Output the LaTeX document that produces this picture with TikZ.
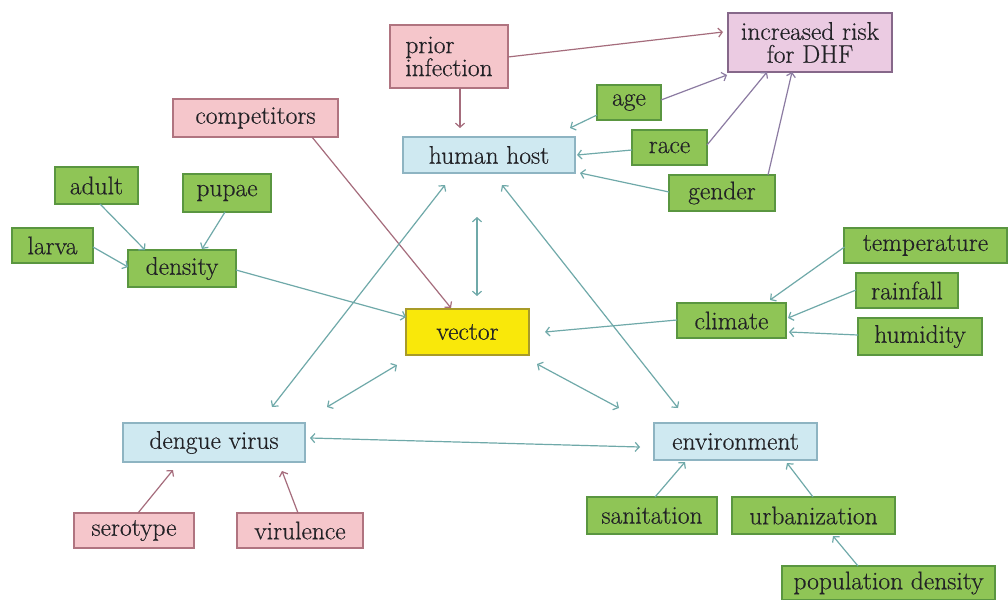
\documentclass[tikz,border=0pt]{standalone}
\usepackage{fontspec}
\setmainfont{Latin Modern Roman}[FakeBold=0.45]
\usetikzlibrary{arrows.meta,calc}
\definecolor{gfill}{HTML}{8FC556}
\definecolor{gline}{HTML}{5A9640}
\definecolor{pfill}{HTML}{F5C6CB}
\definecolor{pline}{HTML}{B07480}
\definecolor{bfill}{HTML}{CFE9F1}
\definecolor{bline}{HTML}{8EB4C2}
\definecolor{yfill}{HTML}{F9E80A}
\definecolor{yline}{HTML}{A89B28}
\definecolor{vfill}{HTML}{EBCBE2}
\definecolor{vline}{HTML}{86688A}
\definecolor{txt}{HTML}{222226}
\definecolor{teal}{HTML}{6FA9A9}
\definecolor{mauve}{HTML}{A56C7C}
\definecolor{purp}{HTML}{8C7BA2}
\begin{document}
\begin{tikzpicture}[x=1pt,y=-1pt,
  box/.style={draw, line width=1.3pt, inner sep=0pt, text=txt, align=center,
    font=\fontsize{25.5}{23}\selectfont},
  gbox/.style={box, fill=gfill, draw=gline},
  pbox/.style={box, fill=pfill, draw=pline},
  bbox/.style={box, fill=bfill, draw=bline},
  ybox/.style={box, fill=yfill, draw=yline},
  vbox/.style={box, fill=vfill, draw=vline},
  wh/.style n args={2}{minimum width=#1pt, minimum height=#2pt},
  con/.style={line width=1.2pt, -{Straight Barb[length=4pt,width=9pt,line width=1.2pt]}},
  dcon/.style={line width=1.2pt, {Straight Barb[length=4pt,width=9pt,line width=1.2pt]}-{Straight Barb[length=4pt,width=9pt,line width=1.2pt]}},
  tcon/.style={con, draw=teal},
  tdcon/.style={dcon, draw=teal},
  mcon/.style={con, draw=mauve},
  vcon/.style={con, draw=purp}]
\useasboundingbox[fill=white] (0,0) rectangle (1008,599);

% nodes
\node[pbox, wh={118}{63}, align=left] (prior) at (449,56.5) {prior\\infection};
\node[vbox, wh={164}{59}] (risk) at (810,42.5) {increased risk\\for DHF};
\node[pbox, wh={165}{38}] (comp) at (255.5,118) {competitors};
\node[bbox, wh={172}{36}] (human) at (489,155) {human host};
\node[gbox, wh={64}{35}] (age) at (629,102.5) {age};
\node[gbox, wh={75}{35}] (race) at (669.5,147.5) {race};
\node[gbox, wh={106}{36}] (gender) at (722,193) {gender};
\node[gbox, wh={83}{37}] (adult) at (96.5,185.5) {adult};
\node[gbox, wh={88}{38}] (pupae) at (227,193) {pupae};
\node[gbox, wh={81}{35}] (larva) at (52.5,245.5) {larva};
\node[gbox, wh={108}{37}] (density) at (182,268.5) {density};
\node[ybox, wh={123}{46}] (vector) at (467.5,332) {vector};
\node[gbox, wh={109}{35}] (climate) at (731.5,320.5) {climate};
\node[gbox, wh={163}{35}] (temp) at (925.5,245.5) {temperature};
\node[gbox, wh={102}{35}] (rain) at (907,290.5) {rainfall};
\node[gbox, wh={124}{37}] (humid) at (920,336.5) {humidity};
\node[bbox, wh={163}{37}] (env) at (735.5,441.5) {environment};
\node[gbox, wh={130}{37}] (sanit) at (652,515.5) {sanitation};
\node[gbox, wh={163}{37}] (urban) at (813.5,515.5) {urbanization};
\node[gbox, wh={213}{34}] (popd) at (888.5,583) {population density};
\node[bbox, wh={182}{39}] (dengue) at (214,442.5) {dengue virus};
\node[pbox, wh={120}{35}] (sero) at (134,530.5) {serotype};
\node[pbox, wh={126}{35}] (viru) at (300,530.5) {virulence};

% connectors
\draw[mcon] ($(prior)+(59,0.5)$) -- ($(risk)+(-87,-10.5)$);
\draw[mcon] ($(prior)+(11,31.5)$) -- ($(human)+(-29,-27)$);
\draw[vcon] ($(age)+(32,-2.5)$) -- ($(risk)+(-83,32.5)$);
\draw[vcon] ($(race)+(37.5,-2.5)$) -- ($(risk)+(-43,29.5)$);
\draw[vcon] ($(gender)+(46,-18)$) -- ($(risk)+(-18,29.5)$);
\draw[tcon] ($(age)+(-32,12.5)$) -- ($(human)+(81,-27)$);
\draw[tcon] ($(race)+(-37.5,2.5)$) -- ($(human)+(88,0)$);
\draw[tcon] ($(gender)+(-53,-1)$) -- ($(human)+(91,18)$);
\draw[tcon] ($(adult)+(3.5,18.5)$) -- ($(density)+(-37,-18.5)$);
\draw[tcon] ($(pupae)+(-2,19)$) -- ($(density)+(20,-19.5)$);
\draw[tcon] ($(larva)+(40.5,1.5)$) -- ($(density)+(-54,-1.5)$);
\draw[tcon] ($(density)+(54,1.5)$) -- ($(vector)+(-61.5,-15)$);
\draw[mcon] ($(comp)+(56.5,19)$) -- ($(vector)+(-16.5,-24)$);
\draw[tdcon] ($(human)+(-12,62)$) -- ($(vector)+(9.5,-36)$);
\draw[tdcon] ($(dengue)+(58,-35.5)$) -- ($(human)+(-44,30)$);
\draw[tdcon] ($(vector)+(-70.5,33)$) -- ($(dengue)+(113,-35.5)$);
\draw[tdcon] ($(vector)+(69.5,32)$) -- ($(env)+(-116.5,-33.5)$);
\draw[tdcon] ($(human)+(13,30)$) -- ($(env)+(-57.5,-33.5)$);
\draw[tcon] ($(climate)+(-54.5,-0.5)$) -- ($(vector)+(77.5,0)$);
\draw[tcon] ($(temp)+(-81,1.5)$) -- ($(climate)+(38.5,-20.5)$);
\draw[tcon] ($(rain)+(-51,-0.5)$) -- ($(climate)+(56.5,-2.5)$);
\draw[tcon] ($(humid)+(-62,-1.5)$) -- ($(climate)+(57.5,11.5)$);
\draw[tdcon] ($(dengue)+(96,-4.5)$) -- ($(env)+(-95.5,5.5)$);
\draw[tcon] ($(sanit)+(3,-18.5)$) -- ($(env)+(-50.5,20.5)$);
\draw[tcon] ($(urban)+(-0.5,-18.5)$) -- ($(env)+(51.5,21.5)$);
\draw[tcon] ($(popd)+(-30.5,-17)$) -- ($(urban)+(19.5,20.5)$);
\draw[mcon] ($(sero)+(4,-17.5)$) -- ($(dengue)+(-41,27.5)$);
\draw[mcon] ($(viru)+(-2,-17.5)$) -- ($(dengue)+(68,28.5)$);
\end{tikzpicture}
\end{document}
